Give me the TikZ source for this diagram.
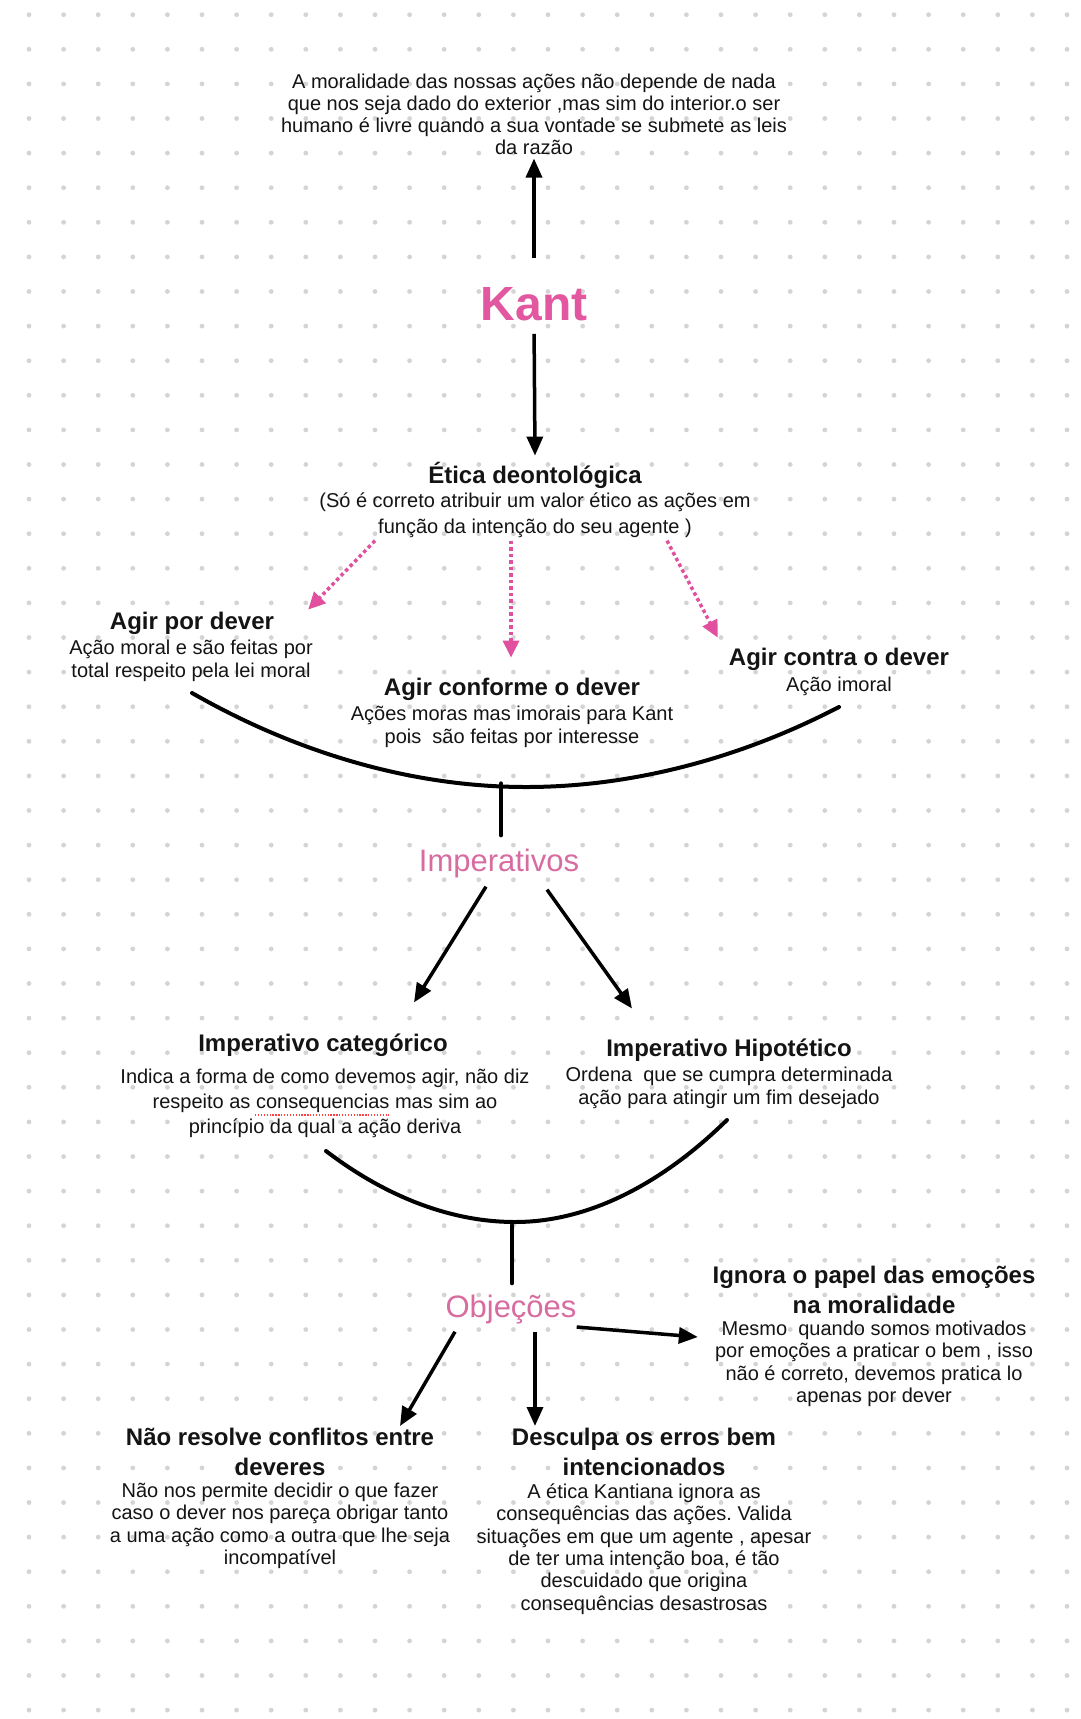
\documentclass[tikz,border=0pt]{standalone}
\usepackage{fontspec}
\setmainfont{Liberation Sans}
\usetikzlibrary{arrows.meta,calc}
\frenchspacing
\definecolor{kantpink}{HTML}{E2579F}
\definecolor{softpink}{HTML}{D86CA0}
\definecolor{dashpink}{HTML}{E0509F}
\definecolor{dotgray}{HTML}{D4D4D4}
\tikzset{
  body/.style={align=center,inner sep=0pt,text=black!92,font=\fontsize{20}{22.4}\selectfont},
  head/.style={align=center,inner sep=0pt,text=black!92,font=\fontsize{24}{30}\selectfont\bfseries},
  hub/.style={inner sep=0pt,text=softpink,font=\fontsize{31}{36}\selectfont},
  arr/.style={line width=3.5pt,-{Triangle[length=19pt,width=16pt]}},
  pinkarr/.style={dashpink,line width=3.5pt,dash pattern=on 3.5pt off 3pt,-{Triangle[length=17pt,width=16pt]}},
  bow/.style={line width=4pt,line cap=round},
}
\begin{document}
\begin{tikzpicture}[x=1pt,y=-1pt]
\useasboundingbox (0,0) rectangle (1080,1719);
\fill[white] (0,0) rectangle (1080,1719);
\foreach \i in {0,...,30}
  \foreach \j in {0,...,49}
    \fill[dotgray] ({29+34.6*\i},{14.7+34.6*\j}) circle (2.4pt);

\node[body,font=\fontsize{20}{22}\selectfont] (lei) at (534,114)
  {A moralidade das nossas ações não depende de nada\\que nos seja dado do exterior ,mas sim do interior.o ser\\humano é livre quando a sua vontade se submete as leis\\da razão};

\node[inner sep=0pt,text=kantpink,font=\fontsize{48}{56}\selectfont\bfseries] (kant) at (534,304) {Kant};

\node[head] (etica) at (535,475) {Ética deontológica};
\node[body,font=\fontsize{20}{26}\selectfont] (etdesc) at (535,515)
  {(Só é correto atribuir um valor ético as ações em\\função da intenção do seu agente )};

\node[head] (apd) at (192,623) {Agir por dever};
\node[body] (apddesc) at (191,661) {Ação moral e são feitas por\\total respeito pela lei moral};

\node[head] (acfd) at (512,689) {Agir conforme o dever};
\node[body] (acfddesc) at (512,727) {Ações moras mas imorais para Kant\\pois\ \ são feitas por interesse};

\node[head] (actr) at (839,659) {Agir contra o dever};
\node[body] (actrdesc) at (839,686) {Ação imoral};

\node[hub] (imp) at (499,863) {Imperativos};

\node[head] (icat) at (323,1045) {Imperativo categórico};
\node[body,font=\fontsize{20}{25}\selectfont] (icatdesc) at (325,1103)
  {Indica a forma de como devemos agir, não diz\\respeito as consequencias mas sim ao\\princípio da qual a ação deriva};

\node[head] (ihip) at (729,1050) {Imperativo Hipotético};
\node[body] (ihipdesc) at (729,1088) {Ordena\ \ que se cumpra determinada\\ação para atingir um fim desejado};

\node[hub] (obj) at (511,1310) {Objeções};

\node[head] (ign) at (874,1290) {Ignora o papel das emoções\\na moralidade};
\node[body] (igndesc) at (874,1364) {Mesmo\ \ quando somos motivados\\por emoções a praticar o bem , isso\\não é correto, devemos pratica lo\\apenas por dever};

\node[head] (naor) at (280,1452) {Não resolve conflitos entre\\deveres};
\node[body] (naordesc) at (280,1526) {Não nos permite decidir o que fazer\\caso o dever nos pareça obrigar tanto\\a uma ação como a outra que lhe seja\\incompatível};

\node[head] (desc) at (644,1452) {Desculpa os erros bem\\intencionados};
\node[body] (descdesc) at (644,1549) {A ética Kantiana ignora as\\consequências das ações. Valida\\situações em que um agente , apesar\\de ter uma intenção boa, é tão\\descuidado que origina\\consequências desastrosas};

\draw[arr,shorten <=29pt,shorten >=4pt] (kant.north) -- (lei.south);
\draw[arr,shorten <=13pt] (kant.south) -- ([yshift=6pt]etica.north);

\draw[pinkarr] ([xshift=-160pt,yshift=-3pt]etdesc.south) -- ([xshift=34pt,yshift=2pt]apd.north east);
\draw[pinkarr] ([xshift=-24pt,yshift=-3pt]etdesc.south) -- ([xshift=-1pt,yshift=20pt]acfd.north);
\draw[pinkarr] ([xshift=132pt,yshift=-3pt]etdesc.south) -- ([xshift=-11pt,yshift=10pt]actr.north west);

\draw[bow] (192,693) parabola bend (526,787) (839,707);
\draw[bow] ([xshift=2pt,yshift=13pt]imp.north) -- ++(0,-52);

\draw[arr] ([xshift=-13pt,yshift=-9pt]imp.south) -- ([xshift=91pt,yshift=31pt]icat.north);
\draw[arr] ([xshift=48pt,yshift=-12pt]imp.south) -- ([xshift=-97pt,yshift=30pt]ihip.north);

\draw[red!75,line width=1.3pt,dash pattern=on 1.3pt off 1.6pt] (255,1115) -- (389,1115);

\draw[bow] (326,1151) parabola bend (515,1222) (727,1120);
\draw[bow] ([xshift=1pt,yshift=12pt]obj.north) -- ++(0,-58);

\draw[arr] ([xshift=-56pt,yshift=-7pt]obj.south) -- ([xshift=120pt,yshift=2pt]naor.north);
\draw[arr] ([xshift=24pt,yshift=-7pt]obj.south) -- ([xshift=-109pt,yshift=2pt]desc.north);
\draw[arr] ([yshift=-17pt]obj.east) -- ([xshift=-17pt,yshift=27pt]igndesc.west);
\end{tikzpicture}
\end{document}
